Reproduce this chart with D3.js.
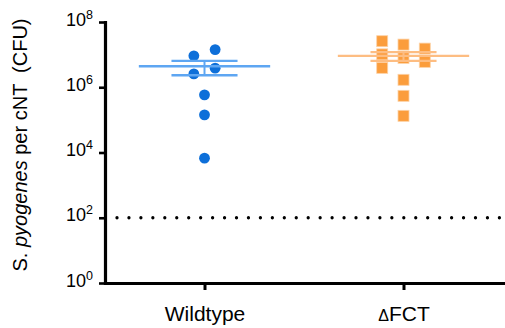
<!DOCTYPE html>
<html>
<head>
<meta charset="utf-8">
<script src="https://cdn.jsdelivr.net/npm/d3@7"></script>
<style>
  body { margin: 0; background: #fff; }
  text { font-family: "Liberation Sans", Arial, sans-serif; fill: #000; }
</style>
</head>
<body>
<div id="container"></div>
<script>
/* CONSTANTS AND GLOBALS */
const width = 505;
const height = 328;
const margin = { top: 22, right: 2, bottom: 45, left: 105 };

/* DATA */
const groups = ["Wildtype", "\u0394FCT"];
const wildtypeValues = [1.43e7, 9.2e6, 3.85e6, 2.57e6, 5.85e5, 1.43e5, 6.7e3];
const wildtypeSlots = [0.5, -0.5, 0.5, -0.5, 0, 0, 0];   // beeswarm column of each point
const fctValues = [2.58e7, 1.02e7, 3.93e6, 2.03e7, 7.95e6, 1.69e6, 5.46e5, 1.33e5, 1.53e7, 6.0e6];
const fctSlots = [-1, -1, -1, 0, 0, 0, 0, 0, 1, 1];
const yTicks = [1, 1e2, 1e4, 1e6, 1e8];
const detectionLimit = 1e2;

const svg = d3.select("#container").append("svg")
  .attr("width", width)
  .attr("height", height);

/* SCALES */
const xScale = d3.scalePoint()
  .domain(groups)
  .range([margin.left, width - margin.right])
  .padding(0.5);

const yScale = d3.scaleLog()
  .domain([1, 1e8])
  .range([height - margin.bottom, margin.top]);

const step = xScale.step();
const slotWidth = step * 0.107;

// dotted detection limit line
svg.append("line")
  .attr("x1", margin.left + 12)
  .attr("x2", width - margin.right - 2)
  .attr("y1", yScale(detectionLimit))
  .attr("y2", yScale(detectionLimit))
  .attr("stroke", "#000")
  .attr("stroke-width", 3.3)
  .attr("stroke-linecap", "round")
  .attr("stroke-dasharray", "0 11.95");

/* POINTS */
const wt = wildtypeValues.map((v, i) => ({ v, s: wildtypeSlots[i] }));
const fct = fctValues.map((v, i) => ({ v, s: fctSlots[i] }));

svg.selectAll("circle.wt")
  .data(wt)
  .join("circle")
  .attr("class", "wt")
  .attr("cx", d => xScale(groups[0]) + d.s * slotWidth)
  .attr("cy", d => yScale(d.v))
  .attr("r", 5.4)
  .attr("fill", "#0d6fd9");

const sq = 11;
svg.selectAll("rect.fct")
  .data(fct)
  .join("rect")
  .attr("class", "fct")
  .attr("x", d => xScale(groups[1]) + d.s * slotWidth - sq / 2)
  .attr("y", d => yScale(d.v) - sq / 2)
  .attr("width", sq)
  .attr("height", sq)
  .attr("fill", "#fb9d3c")
  .attr("stroke", "#fdd2a6")
  .attr("stroke-width", 0.8);

/* MEAN +/- SEM */
function drawSummary(values, cat, color) {
  const m = d3.mean(values);
  const sem = d3.deviation(values) / Math.sqrt(values.length);
  const cx = xScale(cat);
  const g = svg.append("g").attr("stroke", color).attr("fill", "none");
  g.append("line")
    .attr("x1", cx).attr("x2", cx)
    .attr("y1", yScale(m + sem)).attr("y2", yScale(m - sem))
    .attr("stroke-width", 2);
  [m + sem, m - sem].forEach(v => {
    g.append("line")
      .attr("x1", cx - step * 0.166).attr("x2", cx + step * 0.166)
      .attr("y1", yScale(v)).attr("y2", yScale(v))
      .attr("stroke-width", 2.4);
  });
  g.append("line")
    .attr("x1", cx - step * 0.33).attr("x2", cx + step * 0.33)
    .attr("y1", yScale(m)).attr("y2", yScale(m))
    .attr("stroke-width", 2.4);
}
drawSummary(wildtypeValues, groups[0], "#5ea6f2");
drawSummary(fctValues, groups[1], "#fdbd82");

/* AXES */
const yAxis = d3.axisLeft(yScale)
  .tickValues(yTicks)
  .tickSize(6)
  .tickSizeOuter(0)
  .tickFormat("");

const yg = svg.append("g")
  .attr("transform", `translate(${margin.left},0)`)
  .call(yAxis);

yg.selectAll(".tick line").attr("stroke", "#000").attr("stroke-width", 2.6);
yg.selectAll(".tick").append("text")
  .attr("x", -12)
  .attr("y", 3)
  .attr("text-anchor", "end")
  .style("font-size", "18px")
  .each(function (d) {
    const t = d3.select(this);
    t.append("tspan").text("10");
    t.append("tspan")
      .attr("dy", -7)
      .style("font-size", "12.5px")
      .text(Math.round(Math.log10(d)));
  });

const xAxis = d3.axisBottom(xScale)
  .tickSize(7)
  .tickSizeOuter(0)
  .tickFormat("");

const xg = svg.append("g")
  .attr("transform", `translate(0,${height - margin.bottom})`)
  .call(xAxis);

xg.selectAll(".tick line").attr("stroke", "#000").attr("stroke-width", 3);
xg.selectAll(".tick").append("text")
  .attr("y", 38)
  .attr("text-anchor", "middle")
  .style("font-size", "21px")
  .each(function (d) {
    const t = d3.select(this);
    if (d.startsWith("\u0394")) {
      t.append("tspan").style("font-size", "16px").text("\u0394");
      t.append("tspan").text(d.slice(1));
    } else {
      t.text(d);
    }
  });

svg.selectAll(".domain")
  .attr("stroke", "#000")
  .attr("stroke-width", 3.2)
  .attr("stroke-linecap", "square");

// y axis title
const title = svg.append("text")
  .attr("transform", `translate(27,145) rotate(-90)`)
  .attr("text-anchor", "middle")
  .style("font-size", "20px")
  .style("white-space", "pre");
title.append("tspan").text("S. ");
title.append("tspan").style("font-style", "italic").text("pyogenes");
title.append("tspan").text(" per cNT  (CFU)");
</script>
</body>
</html>
